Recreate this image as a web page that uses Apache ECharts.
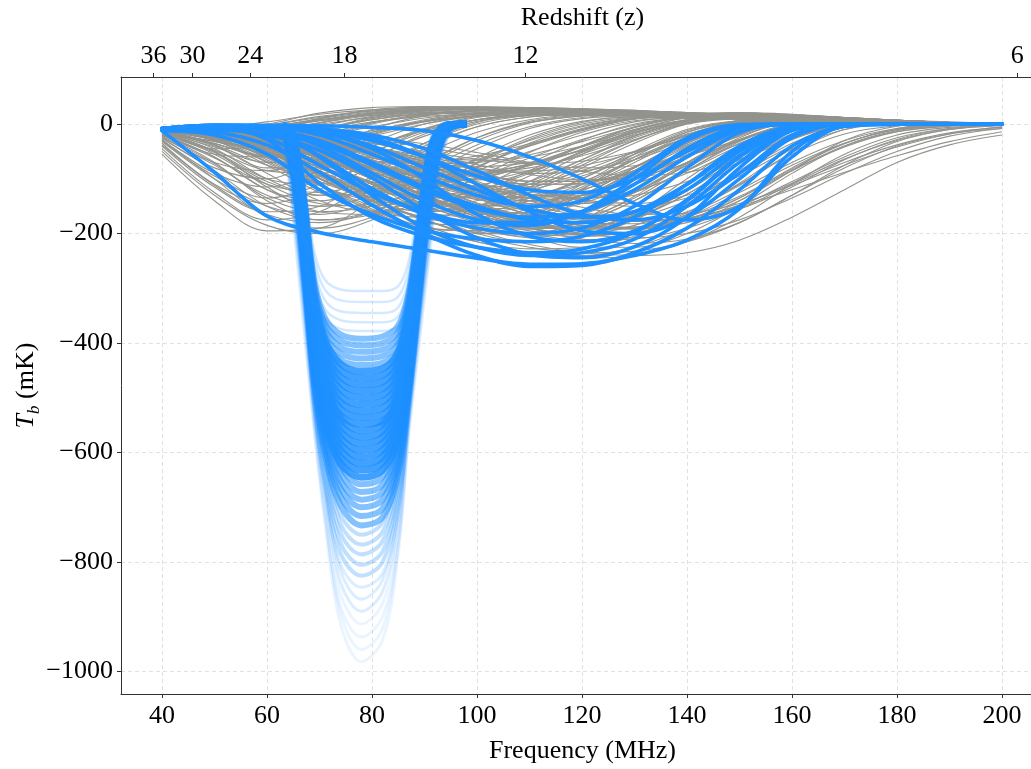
<!DOCTYPE html>
<html><head><meta charset="utf-8">
<script src="https://cdn.jsdelivr.net/npm/echarts@6.0.0/dist/echarts.min.js"></script>
<style>html,body{margin:0;padding:0;background:#fff;overflow:hidden;width:1031px;height:769px}#c{width:1070px;height:769px}</style>
</head><body><div id="c"></div>
<script>
// ---------- data ----------
const freq = [40,50,60,70,80,90,100,110,120,130,140,150,160,170,180,190,200];
const freqTicks = [40,60,80,100,120,140,160,180,200];
const tempTicks = [-1000,-800,-600,-400,-200,0];
const redshiftTicks = [36,30,24,18,12,6];

const grayCurves = [
 [-8,-12,-2,14,24,29,30,29,27,24,20,16,12,8,5,3,1],
 [-10,-20,-8,10,22,28,30,29,27,24,20,16,12,8,5,3,1],
 [-12,-30,-20,2,18,26,29,29,27,24,20,16,12,8,5,3,1],
 [-15,-45,-40,-12,10,22,27,28,26,23,20,16,12,8,5,3,1],
 [-18,-55,-60,-30,0,16,24,26,25,23,19,15,12,8,5,3,1],
 [-22,-70,-85,-55,-15,8,20,24,24,22,19,15,12,8,5,3,1],
 [-28,-90,-115,-85,-35,0,16,22,23,21,18,15,11,8,5,3,1],
 [-35,-110,-145,-120,-65,-18,8,18,21,20,18,14,11,8,5,3,1],
 [-45,-125,-175,-160,-105,-45,-5,13,19,19,17,14,11,8,5,3,1],
 [-55,-140,-195,-190,-140,-75,-25,5,16,18,16,13,10,7,5,3,1],
 [-10,-25,-40,-25,2,18,25,27,25,23,19,15,12,8,5,3,1],
 [-12,-35,-60,-50,-20,5,19,24,24,22,19,15,11,8,5,3,1],
 [-14,-40,-80,-80,-50,-15,8,19,22,21,18,14,11,8,5,3,1],
 [-16,-50,-100,-110,-80,-40,-5,13,19,20,17,14,11,8,5,3,1],
 [-20,-60,-120,-140,-115,-70,-25,3,15,18,16,13,10,7,5,3,1],
 [-9,-15,-25,-10,12,24,29,29,27,24,20,16,12,8,5,3,1],
 [-8,-10,-12,3,20,28,31,30,28,25,21,17,13,9,6,3,1],
 [-8,-8,0,20,30,32,31,29,27,24,20,16,12,9,6,3,1],
 [-9,-18,-15,10,26,31,31,30,27,24,20,16,12,9,6,3,1],
 [-25,-80,-100,-60,-10,15,24,26,25,23,19,15,12,8,5,3,1],
 [-30,-95,-135,-110,-55,-10,12,21,22,21,18,14,11,8,5,3,1],
 [-40,-115,-160,-150,-95,-35,3,17,21,20,17,14,11,8,5,3,1],
 [-11,-28,-55,-65,-40,-8,14,23,24,22,19,15,11,8,5,3,1],
 [-13,-38,-75,-95,-75,-35,0,16,21,21,18,14,11,8,5,3,1],
 [-17,-52,-105,-130,-115,-75,-30,2,15,18,16,13,10,7,5,3,1],
 [-6,-6,4,18,26,28,27,25,22,19,16,13,10,7,4,2,1],
 [-7,-9,-4,8,16,21,22,21,19,17,14,11,8,6,4,2,1],
 [-8,-14,-12,0,12,18,20,19,18,16,13,10,8,5,3,2,0],
 [-10,-22,-28,-14,4,14,18,18,17,15,12,10,7,5,3,2,0],
 [-12,-32,-45,-35,-12,5,14,17,17,15,13,10,7,5,3,2,0],
 [-14,-42,-70,-68,-40,-10,8,15,16,15,12,10,7,5,3,2,0],
 [-9,-16,-20,-4,14,24,27,27,25,22,19,15,11,8,5,3,1],
 [-7,-8,-6,6,18,25,28,28,26,23,19,15,12,8,5,3,1],
 [-11,-26,-35,-20,3,17,24,25,24,21,18,14,11,8,5,3,1],
 [-13,-36,-58,-48,-18,6,18,22,22,20,17,14,10,7,5,3,1],
 [-16,-48,-85,-90,-60,-22,5,17,20,19,16,13,10,7,4,2,1],
 [-20,-62,-110,-125,-100,-55,-15,8,17,18,15,12,9,7,4,2,1],
 [-24,-75,-130,-150,-130,-85,-38,-5,12,16,15,12,9,6,4,2,1],
 [-32,-100,-150,-165,-140,-95,-45,-8,10,15,14,12,9,6,4,2,1],
 [-38,-112,-165,-180,-160,-115,-62,-20,5,13,13,11,9,6,4,2,1],
 [-50,-130,-185,-200,-175,-125,-70,-25,3,13,13,11,8,6,4,2,1],
 [-8,-11,-8,6,20,27,30,29,27,24,21,17,13,9,6,3,1],
 [-9,-14,-18,-8,8,19,25,27,26,23,20,16,12,8,5,3,1],
 [-10,-19,-28,-22,-5,11,21,25,25,23,19,15,12,8,5,3,1],
 [-11,-23,-40,-40,-22,0,15,22,23,22,19,15,11,8,5,3,1],
 [-8,-9,-5,8,20,26,28,28,26,23,20,16,12,8,5,3,1],
 [-9,-13,-12,2,16,24,28,28,26,23,19,15,12,8,5,3,1],
 [-10,-17,-22,-10,8,20,25,27,25,22,19,15,11,8,5,3,1],
 [-8,-9,-2,12,24,30,31,30,28,25,21,17,13,9,6,3,1],
 [-12,-28,-45,-38,-15,4,16,22,23,21,18,14,11,8,5,3,1],
 [-14,-36,-60,-62,-40,-12,8,18,21,20,17,14,10,7,5,3,1],
 [-30,-100,-170,-190,-170,-125,-72,-28,0,12,13,11,8,6,4,2,1],
 [-20,-70,-140,-175,-165,-128,-80,-35,-5,10,12,10,8,6,4,2,1],
 [-15,-50,-115,-160,-165,-140,-98,-52,-15,6,11,10,8,5,3,2,1],
 [-12,-38,-90,-140,-160,-150,-118,-72,-30,0,10,10,8,5,3,2,1],
 [-18,-60,-120,-150,-145,-120,-85,-50,-20,4,13,13,10,7,4,2,1],
 [-22,-72,-135,-160,-150,-118,-78,-40,-10,9,15,13,10,7,4,2,1],
 [-14,-45,-100,-130,-125,-100,-65,-30,-3,12,16,13,10,7,4,2,1],
 [-26,-85,-150,-175,-160,-122,-78,-38,-8,10,14,12,9,6,4,2,1],
 [-16,-55,-110,-145,-150,-132,-100,-62,-28,-2,11,12,9,6,4,2,1],
 [-6,-8,-14,-26,-42,-58,-66,-60,-40,-15,8,18,16,11,7,3,1],
 [-6,-9,-17,-32,-52,-70,-78,-70,-48,-20,5,16,15,11,7,3,1],
 [-7,-11,-22,-40,-62,-80,-86,-74,-48,-16,8,18,16,11,7,3,1],
 [-7,-12,-26,-48,-72,-90,-92,-76,-46,-12,12,20,17,12,7,3,1],
 [-8,-14,-30,-55,-80,-95,-92,-72,-40,-6,15,21,18,12,7,3,1],
 [-6,-8,-13,-22,-35,-50,-64,-72,-68,-50,-22,5,15,12,7,3,1],
 [-6,-8,-15,-27,-44,-63,-80,-90,-86,-65,-32,0,13,11,7,3,1],
 [-5,-6,-10,-17,-28,-42,-58,-72,-80,-76,-58,-28,2,10,7,3,1],
 [-5,-7,-12,-21,-35,-53,-74,-92,-102,-96,-72,-36,-2,9,6,3,1],
 [-5,-6,-9,-15,-24,-36,-52,-70,-86,-94,-88,-64,-28,0,5,3,1],
 [-9,-18,-36,-55,-68,-70,-58,-36,-10,10,20,20,16,11,7,3,1],
 [-10,-22,-45,-68,-82,-82,-66,-40,-12,10,19,19,15,10,6,3,1],
 [-8,-14,-28,-46,-62,-72,-70,-56,-32,-6,14,20,17,12,7,3,1],
 [-7,-10,-18,-32,-50,-68,-82,-86,-76,-52,-20,8,16,12,7,3,1],
 [-6,-9,-16,-29,-47,-68,-90,-104,-104,-86,-52,-14,8,10,7,3,1],
 [-6,-12,-30,-60,-90,-105,-100,-75,-40,-10,8,12,11,8,5,3,1],
 [-7,-15,-40,-80,-115,-130,-120,-90,-50,-15,5,10,10,8,5,3,1],
 [-8,-18,-50,-100,-140,-160,-150,-115,-70,-30,0,9,9,7,5,3,1],
 [-6,-10,-22,-45,-75,-100,-115,-110,-85,-50,-18,2,8,7,5,3,1],
 [-7,-12,-28,-60,-100,-135,-150,-140,-110,-65,-25,0,7,6,4,2,1],
 [-8,-14,-35,-75,-125,-165,-180,-170,-130,-80,-35,-5,5,5,4,2,1],
 [-9,-20,-55,-110,-160,-190,-195,-170,-120,-60,-15,5,7,6,4,2,1],
 [-6,-8,-15,-30,-55,-85,-115,-135,-135,-110,-70,-30,-3,5,4,2,1],
 [-6,-9,-18,-38,-70,-110,-145,-165,-160,-125,-75,-30,0,4,3,2,1],
 [-7,-11,-25,-55,-95,-140,-175,-190,-180,-140,-85,-35,-5,3,3,2,1],
 [-5,-7,-12,-22,-40,-65,-95,-120,-135,-130,-105,-65,-25,-3,2,1,0],
 [-5,-6,-10,-18,-32,-55,-85,-115,-140,-150,-135,-95,-45,-10,0,0,0],
 [-6,-10,-20,-40,-70,-100,-125,-135,-120,-85,-40,-8,5,5,4,2,1],
 [-10,-25,-60,-105,-135,-145,-130,-95,-50,-12,6,11,10,8,5,3,1],
 [-12,-30,-75,-125,-160,-170,-150,-105,-55,-15,5,10,10,7,5,3,1],
 [-11,-28,-65,-110,-150,-180,-185,-160,-110,-55,-12,5,7,6,4,2,1],
 [-8,-16,-40,-85,-135,-175,-200,-200,-175,-120,-60,-15,3,4,3,2,1],
 [-7,-13,-30,-65,-110,-160,-200,-215,-205,-165,-100,-40,-5,2,2,1,0],
 [-6,-9,-20,-45,-85,-130,-170,-195,-200,-175,-120,-55,-12,1,2,1,0],
 [-9,-20,-50,-95,-140,-170,-180,-165,-130,-80,-30,0,8,7,5,3,1],
 [-6,-10,-25,-50,-80,-105,-120,-115,-90,-55,-20,3,9,8,5,3,1],
 [-7,-12,-30,-60,-95,-120,-130,-120,-95,-60,-25,0,8,7,5,3,1],
 [-5,-8,-15,-28,-45,-68,-90,-105,-105,-85,-50,-15,5,7,5,3,1],
 [-6,-9,-18,-35,-60,-90,-120,-140,-145,-125,-85,-40,-8,4,4,2,1],
 [-8,-15,-38,-75,-115,-145,-160,-150,-115,-65,-20,5,9,7,5,3,1],
 [-10,-22,-50,-90,-120,-135,-130,-105,-65,-25,3,11,11,8,5,3,1],
 [-7,-14,-35,-70,-110,-145,-165,-160,-130,-80,-30,-2,6,6,4,2,1],
 [-6,-10,-22,-45,-80,-120,-155,-175,-170,-135,-80,-30,-2,4,3,2,1],
 [-5,-7,-14,-28,-50,-80,-110,-130,-130,-110,-70,-28,0,5,4,2,1],
 [-9,-18,-45,-90,-130,-155,-160,-140,-100,-50,-10,6,8,7,5,3,1],
 [-6,-10,-24,-52,-88,-118,-135,-130,-105,-65,-25,2,10,9,6,3,1],
 [-7,-13,-32,-68,-108,-140,-150,-135,-100,-55,-15,6,11,9,6,3,1],
 [-8,-16,-42,-85,-125,-150,-150,-125,-80,-35,0,12,13,10,6,3,1],
 [-9,-19,-48,-92,-130,-148,-140,-110,-65,-22,6,15,14,10,6,3,1],
 [-6,-9,-20,-42,-72,-100,-120,-125,-110,-78,-38,-5,10,10,7,4,1],
 [-6,-10,-22,-48,-82,-115,-138,-145,-130,-95,-50,-10,8,9,6,3,1],
 [-7,-12,-28,-58,-95,-128,-148,-150,-130,-90,-42,-5,8,8,6,3,1],
 [-5,-7,-14,-28,-48,-72,-95,-110,-110,-92,-60,-22,4,8,6,3,1],
 [-5,-8,-17,-34,-58,-88,-115,-130,-125,-100,-60,-18,5,8,6,3,1],
 [-8,-17,-44,-88,-130,-160,-170,-155,-118,-70,-25,3,10,9,6,3,1],
 [-10,-24,-58,-100,-135,-155,-150,-120,-75,-30,2,13,13,9,6,3,1],
 [-12,-30,-68,-112,-140,-145,-125,-85,-40,-5,12,16,14,10,6,3,1],
 [-9,-20,-45,-78,-105,-118,-112,-88,-52,-18,7,15,14,10,6,3,1],
 [-7,-13,-30,-55,-82,-100,-102,-85,-55,-22,5,14,13,10,6,3,1],
 [-6,-11,-24,-44,-66,-82,-88,-80,-58,-28,2,14,14,10,6,3,1],
 [-8,-15,-35,-62,-88,-102,-98,-75,-42,-10,12,18,15,10,6,3,1],
 [-6,-9,-18,-34,-55,-78,-98,-110,-108,-88,-55,-18,6,9,6,3,1],
 [-7,-12,-26,-50,-80,-110,-132,-140,-130,-100,-58,-16,6,8,6,3,1],
 [-8,-15,-36,-70,-108,-140,-160,-162,-145,-108,-60,-15,6,8,5,3,1],
 [-6,-8,-16,-30,-52,-80,-108,-128,-135,-122,-90,-45,-8,6,5,3,1],
 [-9,-22,-52,-98,-142,-172,-182,-170,-135,-85,-35,0,10,9,6,3,1],
 [-10,-26,-62,-112,-158,-188,-195,-178,-138,-85,-32,2,10,9,6,3,1],
 [-7,-14,-34,-68,-110,-150,-175,-182,-165,-125,-70,-20,5,7,5,3,1],
 [-6,-10,-22,-46,-80,-120,-158,-182,-188,-168,-122,-62,-14,3,4,2,1],
 [-5,-7,-13,-25,-42,-65,-92,-118,-138,-145,-130,-90,-40,-6,2,1,0],
 [-6,-9,-19,-38,-65,-98,-132,-160,-175,-170,-140,-90,-35,-4,2,1,0],
 [-8,-18,-42,-80,-122,-160,-185,-192,-178,-140,-85,-32,0,6,4,2,1],
 [-7,-11,-26,-54,-92,-132,-165,-185,-188,-165,-118,-58,-10,4,4,2,1],
 [-7,-13,-30,-60,-98,-135,-162,-172,-160,-125,-75,-25,5,8,5,3,1],
 [-8,-15,-35,-68,-106,-138,-155,-150,-122,-78,-32,0,10,9,6,3,1],
 [-6,-11,-24,-48,-82,-122,-160,-186,-192,-172,-128,-68,-18,3,4,2,1],
 [-7,-12,-27,-54,-90,-130,-165,-190,-200,-185,-145,-85,-28,0,3,2,1],
 [-5,-8,-16,-32,-56,-88,-125,-158,-180,-182,-160,-112,-52,-10,2,1,0],
 [-8,-16,-38,-76,-120,-162,-192,-205,-196,-162,-108,-48,-6,5,4,2,1],
 [-9,-21,-50,-94,-138,-175,-198,-200,-178,-132,-72,-20,6,7,5,3,1],
 [-6,-10,-21,-42,-72,-108,-145,-175,-192,-190,-162,-108,-45,-5,3,2,1],
 [-5,-7,-14,-28,-48,-75,-108,-140,-165,-178,-172,-140,-85,-30,-4,1,0],
 [-7,-14,-32,-62,-100,-140,-172,-190,-190,-170,-128,-72,-20,3,4,2,1],
 [-6,-15,-40,-80,-120,-160,-195,-220,-235,-240,-235,-212,-170,-120,-70,-38,-20],
 [-7,-18,-45,-90,-135,-175,-205,-225,-235,-232,-215,-180,-130,-80,-40,-18,-8],
 [-8,-22,-55,-100,-145,-185,-215,-235,-245,-240,-215,-170,-110,-55,-20,-6,-2],
 [-6,-12,-30,-60,-95,-130,-160,-180,-190,-188,-175,-150,-120,-88,-58,-32,-14],
 [-5,-10,-25,-50,-80,-115,-150,-180,-200,-208,-200,-175,-135,-90,-50,-22,-8],
 [-6,-12,-28,-55,-90,-130,-170,-205,-225,-225,-200,-150,-90,-40,-12,-3,0],
 [-9,-25,-60,-110,-155,-190,-215,-228,-225,-205,-165,-110,-55,-18,-3,0,0],
 [-7,-16,-38,-72,-110,-148,-180,-200,-205,-195,-165,-120,-70,-30,-8,-1,0],
 [-5,-8,-16,-30,-50,-75,-105,-135,-160,-175,-175,-155,-115,-65,-28,-8,-2],
 [-5,-9,-20,-40,-68,-100,-135,-165,-185,-190,-175,-135,-80,-35,-10,-2,0],
 [-10,-30,-70,-120,-165,-200,-225,-240,-240,-225,-190,-140,-85,-40,-14,-4,0],
 [-6,-13,-32,-62,-100,-140,-175,-200,-212,-210,-190,-155,-110,-70,-38,-16,-6],
 [-5,-7,-14,-26,-44,-68,-98,-128,-152,-165,-163,-145,-112,-75,-42,-18,-5],
 [-8,-20,-48,-88,-128,-165,-192,-208,-212,-200,-170,-125,-75,-35,-10,-2,0],
 [-6,-11,-26,-52,-86,-124,-160,-190,-210,-218,-210,-180,-130,-75,-32,-10,-2],
 [-6,-10,-22,-42,-70,-102,-136,-166,-186,-192,-180,-150,-105,-60,-25,-8,-2],
 [-5,-8,-17,-33,-56,-84,-116,-146,-168,-178,-172,-148,-108,-64,-30,-10,-3],
 [-7,-14,-32,-60,-95,-132,-165,-190,-202,-198,-175,-135,-85,-42,-14,-3,0],
 [-6,-11,-24,-46,-76,-110,-144,-172,-188,-188,-170,-132,-82,-36,-8,0,0]
];

const blueCurves = [
 [-12,-88,-168,-198,-215,-230,-245,-256,-255,-240,-212,-155,-50,-3,0,0,0],
 [-9,-14,-38,-88,-148,-200,-240,-260,-258,-235,-190,-120,-40,-4,0,0,0],
 [-9,-10,-20,-48,-98,-158,-208,-238,-244,-224,-170,-80,-12,0,0,0,0],
 [-9,-6,-28,-108,-170,-205,-225,-235,-228,-198,-138,-58,-8,0,0,0,0],
 [-9,-5,-14,-58,-118,-165,-190,-200,-190,-150,-80,-15,0,0,0,0,0],
 [-8,-4,-8,-30,-70,-115,-150,-175,-180,-160,-110,-45,-5,0,0,0,0],
 [-8,-3,-5,-20,-55,-95,-130,-150,-140,-90,-25,-1,0,0,0,0,0],
 [-8,-3,-5,-15,-40,-80,-120,-155,-170,-160,-120,-50,-5,0,0,0,0],
 [-10,-5,-10,-40,-90,-140,-175,-185,-160,-100,-30,-2,0,0,0,0,0],
 [-8,-2,-3,-10,-25,-60,-110,-160,-195,-200,-170,-100,-25,0,0,0,0],
 [-8,-2,-3,-8,-20,-45,-85,-130,-165,-175,-150,-90,-20,0,0,0,0],
 [-9,-3,-5,-15,-45,-100,-165,-205,-215,-195,-140,-60,-8,0,0,0,0],
 [-12,-20,-55,-120,-165,-195,-210,-215,-205,-170,-110,-40,-4,0,0,0,0],
 [-8,-2,-2,-3,-6,-12,-30,-60,-100,-145,-175,-150,-60,-4,0,0,0],
 [-8,-3,-6,-60,-130,-190,-225,-240,-235,-210,-150,-70,-10,0,0,0,0],
 [-10,-8,-25,-75,-125,-160,-180,-180,-160,-110,-45,-5,0,0,0,0,0],
 [-8,-2,-4,-12,-30,-60,-95,-120,-125,-100,-50,-8,0,0,0,0,0],
 [-9,-4,-12,-35,-75,-120,-155,-170,-160,-120,-60,-10,0,0,0,0,0]
];

const bandFreq = [63,65,67,69,71,74,78,82,85,87,89,91,93,95,98];
const bandCurves = [
 [0,-9,-98,-232,-284,-302,-305,-305,-296,-250,-137,-31,-3,0,0],
 [0,-10,-104,-247,-302,-322,-325,-325,-315,-267,-146,-33,-3,0,0],
 [0,-10,-110,-262,-321,-342,-345,-345,-335,-283,-155,-35,-3,0,0],
 [0,-11,-116,-275,-337,-358,-362,-362,-351,-297,-163,-36,-4,0,0],
 [0,-11,-121,-287,-352,-374,-378,-378,-367,-310,-170,-38,-4,0,0],
 [0,-20,-129,-286,-353,-384,-392,-388,-368,-306,-176,-47,-8,0,0],
 [0,-20,-133,-295,-364,-396,-404,-400,-380,-315,-182,-48,-8,0,0],
 [0,-21,-137,-304,-374,-408,-416,-412,-391,-324,-187,-50,-8,0,0],
 [0,-21,-141,-312,-385,-419,-428,-424,-402,-334,-193,-51,-9,0,0],
 [0,-22,-145,-321,-396,-431,-440,-436,-414,-343,-198,-53,-9,0,0],
 [0,-36,-154,-316,-393,-438,-452,-447,-416,-339,-199,-63,-14,-2,0],
 [0,-37,-158,-325,-404,-450,-464,-459,-427,-348,-204,-65,-14,-2,0],
 [0,-38,-162,-333,-414,-462,-476,-471,-438,-357,-209,-67,-14,-2,0],
 [0,-39,-166,-342,-425,-473,-488,-483,-449,-366,-215,-68,-15,-2,0],
 [0,-40,-170,-350,-435,-485,-500,-495,-460,-375,-220,-70,-15,-3,0],
 [0,-41,-174,-358,-445,-497,-512,-507,-471,-384,-225,-72,-15,-3,0],
 [0,-42,-178,-367,-456,-508,-524,-519,-482,-393,-231,-73,-16,-3,0],
 [0,-43,-182,-375,-466,-520,-536,-531,-493,-402,-236,-75,-16,-3,0],
 [0,-44,-186,-384,-477,-532,-548,-543,-504,-411,-241,-77,-16,-3,0],
 [-3,-56,-196,-375,-470,-538,-560,-549,-498,-398,-241,-90,-22,-4,0],
 [-3,-57,-200,-383,-480,-549,-572,-561,-509,-406,-246,-92,-23,-4,0],
 [-3,-58,-204,-391,-491,-561,-584,-572,-520,-415,-251,-93,-23,-4,0],
 [-3,-60,-209,-399,-501,-572,-596,-584,-530,-423,-256,-95,-24,-4,0],
 [-3,-61,-213,-407,-511,-584,-608,-596,-541,-432,-261,-97,-24,-4,0],
 [-3,-62,-217,-415,-521,-595,-620,-608,-552,-440,-267,-99,-25,-4,0],
 [-3,-63,-221,-423,-531,-607,-632,-619,-562,-449,-272,-101,-25,-4,0],
 [-3,-65,-226,-432,-542,-619,-645,-632,-574,-458,-277,-103,-26,-5,0],
 [-4,-79,-237,-428,-540,-625,-658,-645,-572,-447,-283,-118,-33,-6,0],
 [-4,-81,-242,-437,-551,-638,-672,-659,-585,-457,-289,-121,-34,-6,0],
 [-4,-82,-247,-446,-563,-652,-686,-672,-597,-467,-295,-124,-34,-6,0],
 [-4,-84,-252,-455,-574,-665,-700,-686,-609,-476,-301,-126,-35,-6,0],
 [-4,-86,-258,-465,-587,-680,-716,-702,-623,-487,-308,-129,-36,-6,0],
 [-4,-88,-264,-476,-601,-696,-733,-718,-638,-498,-315,-132,-37,-7,0],
 [-6,-105,-278,-465,-593,-713,-750,-728,-630,-480,-315,-158,-45,-8,0],
 [-6,-108,-284,-476,-607,-730,-768,-745,-645,-492,-323,-161,-46,-8,0],
 [-6,-110,-291,-487,-621,-747,-786,-762,-660,-503,-330,-165,-47,-9,0],
 [-6,-113,-298,-499,-636,-765,-805,-781,-676,-515,-338,-169,-48,-9,0],
 [-7,-116,-305,-512,-652,-784,-825,-800,-693,-528,-347,-173,-50,-9,0],
 [-7,-118,-313,-525,-668,-804,-846,-821,-711,-541,-355,-178,-51,-9,0],
 [-8,-143,-321,-512,-660,-816,-868,-833,-712,-521,-356,-200,-61,-12,0],
 [-8,-147,-329,-525,-676,-837,-890,-854,-730,-534,-365,-205,-62,-12,0],
 [-8,-151,-338,-539,-694,-858,-913,-876,-749,-548,-374,-210,-64,-13,0],
 [-8,-155,-347,-553,-712,-881,-937,-900,-768,-562,-384,-216,-66,-13,0],
 [-10,-173,-365,-547,-710,-893,-960,-922,-768,-557,-394,-230,-77,-14,0],
 [-10,-177,-373,-560,-727,-913,-982,-943,-786,-570,-403,-236,-79,-15,0]
];

// ---------- chart ----------
const FONT = '"Liberation Serif", "DejaVu Serif", serif';
const GRAY = '#93938e';
const BLUE = '#1E90FF';
const NU21 = 1420.405751; // MHz, converts redshift tick labels to frequency positions
const redshiftPos = redshiftTicks.map(z => NU21 / (1 + z));

function toPairs(xs, ys) { return xs.map((x, i) => [x, ys[i]]); }

const series = [];
grayCurves.forEach(c => series.push({
  type: 'line', data: toPairs(freq, c), showSymbol: false, smooth: 0.35, silent: true, z: 2,
  lineStyle: { color: GRAY, width: 1.1 }
}));
bandCurves.forEach(c => {
  const depth = -Math.min.apply(null, c);
  let op, w;
  if (depth < 386) { op = 0.2; w = 2.5; }
  else if (depth < 445) { op = 0.55; w = 6; }
  else if (depth < 650) { op = 0.85; w = 7; }
  else if (depth < 740) { op = 0.55; w = 6; }
  else if (depth < 830) { op = 0.28; w = 4; }
  else if (depth < 900) { op = 0.16; w = 3; }
  else { op = 0.09; w = 3; }
  series.push({
    type: 'line', data: toPairs(bandFreq, c), showSymbol: false, smooth: 0.35, silent: true, z: 3,
    lineStyle: { color: BLUE, width: w, opacity: op, cap: 'butt', join: 'round' }
  });
});
blueCurves.forEach(c => series.push({
  type: 'line', data: toPairs(freq, c), showSymbol: false, smooth: 0.35, silent: true, z: 4,
  lineStyle: { color: BLUE, width: 3.6, cap: 'round' }
}));

const txt = { fontFamily: FONT, fontSize: 26, color: '#000' };
const axisLineStyle = { show: true, onZero: false, lineStyle: { color: '#333', width: 1 } };
const gridLine = { show: true, lineStyle: { color: '#d9d9d9', type: [4, 3], width: 0.8 } };

const option = {
  animation: false,
  backgroundColor: '#fff',
  grid: { left: 121, top: 75, width: 923, height: 619, containLabel: false },
  xAxis: [
    {
      type: 'value', position: 'bottom', min: 32.2, max: 208,
      name: 'Frequency (MHz)', nameLocation: 'middle', nameGap: 44, nameTextStyle: txt,
      axisLine: axisLineStyle,
      axisTick: { show: true, length: 4, customValues: freqTicks, lineStyle: { color: '#333' } },
      axisLabel: Object.assign({ margin: 9, customValues: freqTicks }, txt),
      splitLine: gridLine
    },
    {
      type: 'value', position: 'top', min: 32.2, max: 208,
      name: 'Redshift (z)', nameLocation: 'middle', nameGap: 46, nameTextStyle: txt,
      axisLine: axisLineStyle,
      axisTick: { show: true, length: 4, customValues: redshiftPos, lineStyle: { color: '#333' } },
      axisLabel: Object.assign({ margin: 8, customValues: redshiftPos,
        formatter: v => String(Math.round(NU21 / v - 1)) }, txt),
      splitLine: { show: false }
    }
  ],
  yAxis: {
    type: 'value', min: -1041, max: 86,
    name: '{t|T}{s|b}{n| (mK)}', nameLocation: 'middle', nameGap: 78, nameMoveOverlap: false,
    nameTextStyle: Object.assign({}, txt, {
      rich: {
        t: { fontFamily: FONT, fontSize: 26, fontStyle: 'italic', color: '#000', lineHeight: 34 },
        s: { fontFamily: FONT, fontSize: 17, fontStyle: 'italic', color: '#000', lineHeight: 14, verticalAlign: 'bottom' },
        n: { fontFamily: FONT, fontSize: 26, color: '#000', lineHeight: 34 }
      }
    }),
    axisLine: axisLineStyle,
    axisTick: { show: true, length: 4, customValues: tempTicks, lineStyle: { color: '#333' } },
    axisLabel: Object.assign({ margin: 8, customValues: tempTicks,
      formatter: v => v < 0 ? '\u2212' + (-v) : String(v) }, txt),
    splitLine: gridLine
  },
  series: series
};

const chart = echarts.init(document.getElementById('c'), null, { renderer: 'canvas' });
chart.setOption(option);
</script>
</body></html>
